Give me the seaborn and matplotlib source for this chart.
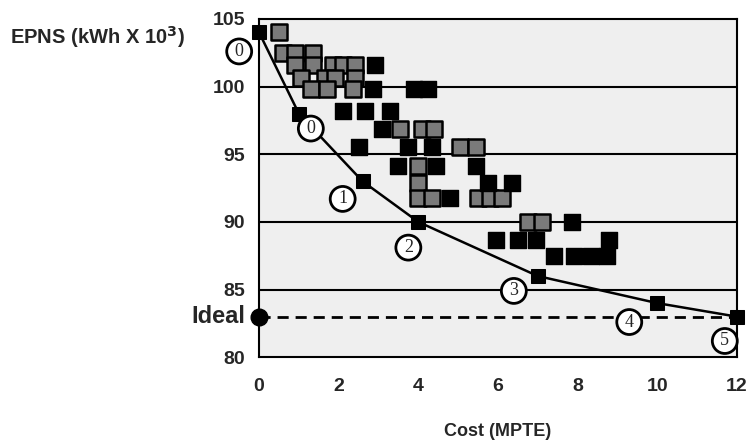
import seaborn as sns
import pandas as pd
import matplotlib.pyplot as plt

# frontier (solid line) solutions
frontier_cost = [0, 1, 2.6, 4, 7, 10, 12]
frontier_epns = [104, 98, 93, 90, 86, 84, 83]
frontier_labels = ["0", "0", "1", "2", "3", "4", "5"]
label_cost = [-0.5, 1.3, 2.1, 3.75, 6.4, 9.3, 11.7]
label_epns = [102.6, 96.9, 91.7, 88.1, 84.9, 82.6, 81.2]

# other solutions, patterned (grey) squares
grey_cost = [0.5, 0.6, 0.9, 1.35, 0.9, 1.35, 1.85, 2.1, 2.4, 1.05, 1.65, 1.9, 2.4,
             1.3, 1.7, 2.35, 3.55, 4.1, 4.4, 5.05, 5.45, 4.0, 4.0, 4.0, 4.35,
             5.5, 5.8, 6.1, 6.75, 7.1]
grey_epns = [104.0, 102.5, 102.5, 102.5, 101.6, 101.6, 101.6, 101.6, 101.6, 100.6, 100.6,
             100.6, 100.6, 99.8, 99.8, 99.8, 96.9, 96.9, 96.9, 95.5, 95.5, 94.1, 92.9,
             91.8, 91.8, 91.8, 91.8, 91.8, 90.0, 90.0]

# other solutions, solid black squares
black_cost = [2.9, 2.85, 3.9, 4.25, 2.1, 2.65, 3.3, 3.1, 2.5, 3.75, 4.35, 3.5, 4.45,
              5.45, 5.75, 6.35, 4.8, 7.85, 5.95, 6.5, 6.95, 8.8, 7.4, 7.9, 8.35, 8.75]
black_epns = [101.6, 99.8, 99.8, 99.8, 98.2, 98.2, 98.2, 96.9, 95.5, 95.5, 95.5, 94.1,
              94.1, 94.1, 92.9, 92.9, 91.8, 90.0, 88.7, 88.7, 88.7, 88.7, 87.5, 87.5,
              87.5, 87.5]

ideal_epns = 83
cost_ticks = [0, 2, 4, 6, 8, 10, 12]
epns_ticks = [80, 85, 90, 95, 100, 105]

sns.set_theme(style="white", rc={'axes.facecolor': '#efefef'})
plt.rcParams['font.family'] = ['Liberation Sans', 'DejaVu Sans']
plt.rcParams['font.weight'] = 'bold'

fig = plt.figure(figsize=(7.51, 4.41), dpi=100)
ax = fig.add_axes([0.345, 0.19, 0.636, 0.767])

frontier = pd.DataFrame({"cost": frontier_cost, "epns": frontier_epns})
grey = pd.DataFrame({"cost": grey_cost, "epns": grey_epns})
black = pd.DataFrame({"cost": black_cost, "epns": black_epns})

for y in [85, 90, 95, 100]:
    ax.axhline(y, color='black', lw=1.5, zorder=1)

ax.plot([0, 12], [ideal_epns, ideal_epns], color='black', lw=2, ls=(0, (4, 2.5)), zorder=2)
ax.plot([0], [ideal_epns], 'o', color='black', ms=12, clip_on=False, zorder=5)

sns.scatterplot(data=grey, x="cost", y="epns", marker='s', s=125, color='#7a7a7a',
                edgecolor='black', linewidth=1.8, ax=ax, zorder=3, clip_on=False)
sns.scatterplot(data=black, x="cost", y="epns", marker='s', s=125, color='black',
                edgecolor='black', linewidth=1, ax=ax, zorder=3, clip_on=False)
sns.lineplot(data=frontier, x="cost", y="epns", color='black', lw=1.8, ax=ax,
             marker='s', markersize=10.5, markeredgecolor='black', zorder=4, clip_on=False)

for lab, cx, cy in zip(frontier_labels, label_cost, label_epns):
    ax.text(cx, cy, lab, ha='center', va='center', fontsize=13, fontweight='normal',
            family='Liberation Serif', zorder=6, clip_on=False,
            bbox=dict(boxstyle='circle,pad=0.22', fc='white', ec='black', lw=2))

ax.set_xlim(0, 12)
ax.set_ylim(80, 105)
ax.set_xticks(cost_ticks)
ax.set_yticks(epns_ticks)
ax.tick_params(axis='both', labelsize=14, direction='out', length=5, width=1.5,
               color='black', pad=5)
ax.tick_params(axis='x', pad=10)
for lbl in ax.get_xticklabels() + ax.get_yticklabels():
    lbl.set_fontweight('bold')
for sp in ax.spines.values():
    sp.set_color('black')
    sp.set_linewidth(1.5)

ax.set_xlabel("Cost (MPTE)", fontsize=13, fontweight='bold', labelpad=20)
ax.set_ylabel(None)

ax.text(-0.35, ideal_epns, "Ideal", ha='right', va='center', fontsize=17,
        fontweight='bold', clip_on=False)
fig.text(10 / 751, 1 - 37 / 441, "EPNS (kWh X 10$^\\mathbf{3}$)", ha='left', va='center',
         fontsize=14.5, fontweight='bold')

plt.savefig("out.png", dpi=100)
